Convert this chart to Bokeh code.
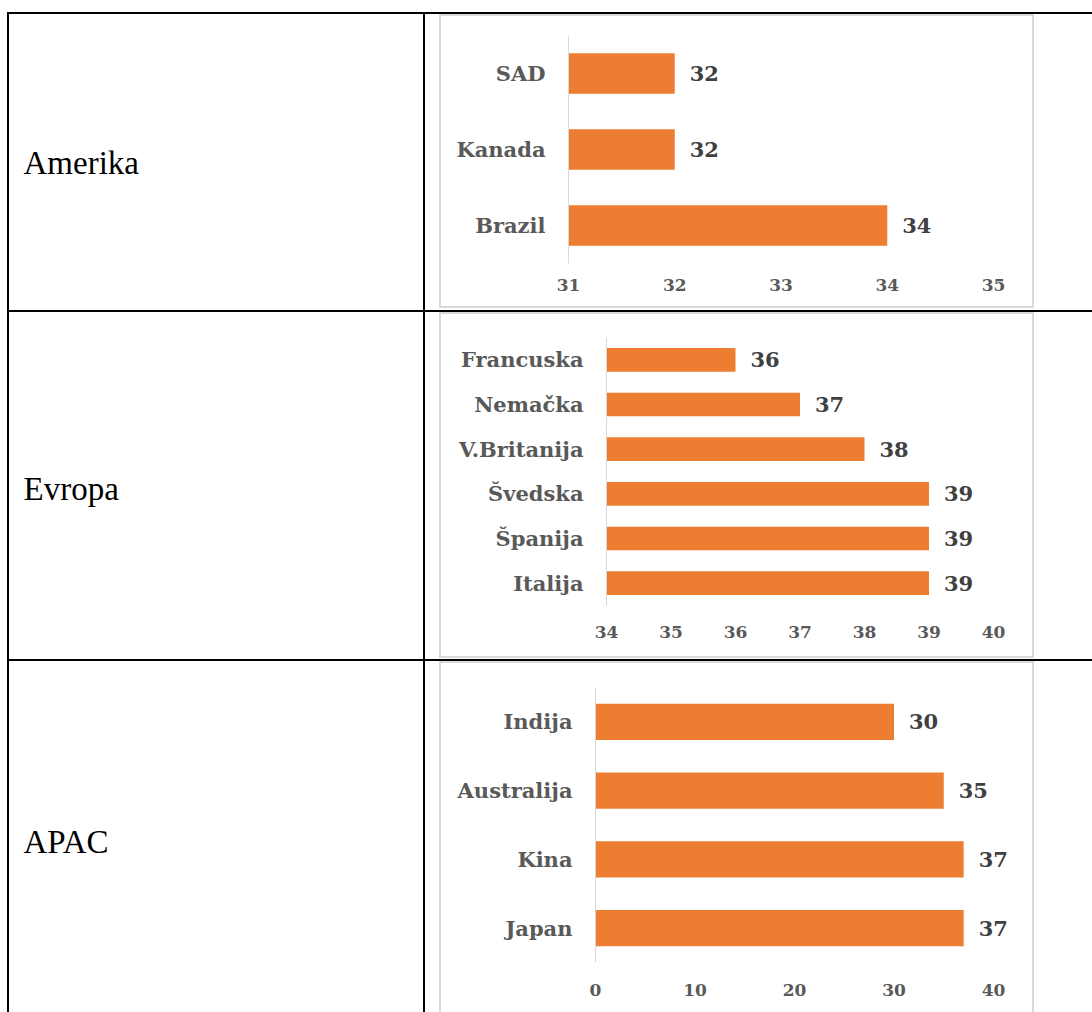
from bokeh.plotting import figure
from bokeh.models import (ColumnDataSource, Range1d, FactorRange, FixedTicker,
                          LabelSet, Label, Spacer)
from bokeh.layouts import row, column
from bokeh.core.properties import value
from bokeh.embed import file_html
from bokeh.resources import INLINE

# ---------------- data ----------------
regions = ["Amerika", "Evropa", "APAC"]

amerika_countries = ["SAD", "Kanada", "Brazil"]
amerika_values = [32, 32, 34]
amerika_ticks = [31, 32, 33, 34, 35]

evropa_countries = ["Francuska", "Nemačka", "V.Britanija", "Švedska", "Španija", "Italija"]
evropa_values = [36, 37, 38, 39, 39, 39]
evropa_ticks = [34, 35, 36, 37, 38, 39, 40]

apac_countries = ["Indija", "Australija", "Kina", "Japan"]
apac_values = [30, 35, 37, 37]
apac_ticks = [0, 10, 20, 30, 40]

# ---------------- styles ----------------
BAR = "#ED7D31"
GRID_GREY = "#d9d9d9"
LABEL_GREY = "#595959"
VALUE_GREY = "#404040"
SERIF_BOLD = "DejaVu Serif"
BLACK = "#000000"
FIG_W = 591
RIGHT_PAD = 39  # space right of the last tick inside the chart


def block(w, h, color):
    return Spacer(width=w, height=h, styles={"background-color": color})


def chart(countries, values, ticks, height, mb_left, mb_top, mb_bottom, x_standoff):
    factors = list(reversed(countries))
    src = ColumnDataSource(dict(cat=countries, val=values,
                                base=[ticks[0]] * len(values),
                                lab=[str(v) for v in values]))
    data_w = FIG_W - mb_left - RIGHT_PAD
    end = ticks[-1] + (ticks[-1] - ticks[0]) * RIGHT_PAD / data_w
    p = figure(width=FIG_W, height=height,
               x_range=Range1d(ticks[0], end),
               y_range=FactorRange(*factors),
               output_backend="svg", toolbar_location=None,
               min_border_left=mb_left, min_border_right=0,
               min_border_top=mb_top, min_border_bottom=mb_bottom,
               outline_line_color=None,
               background_fill_color="white", border_fill_color="white")
    p.hbar(y="cat", left="base", right="val", height=0.53, source=src,
           fill_color=BAR, line_color=None)
    p.grid.visible = False

    p.xaxis.ticker = FixedTicker(ticks=ticks)
    p.xaxis.axis_line_color = None
    p.xaxis.major_tick_line_color = None
    p.xaxis.minor_tick_line_color = None
    p.xaxis.major_label_standoff = x_standoff
    p.xaxis.major_label_text_font = SERIF_BOLD
    p.xaxis.major_label_text_font_style = "bold"
    p.xaxis.major_label_text_font_size = "17px"
    p.xaxis.major_label_text_color = LABEL_GREY

    p.yaxis.axis_line_color = GRID_GREY
    p.yaxis.axis_line_width = 1
    p.yaxis.major_tick_line_color = None
    p.yaxis.minor_tick_line_color = None
    p.yaxis.major_label_standoff = 17
    p.yaxis.major_label_text_font = SERIF_BOLD
    p.yaxis.major_label_text_font_style = "bold"
    p.yaxis.major_label_text_font_size = "21px"
    p.yaxis.major_label_text_color = LABEL_GREY

    labels = LabelSet(x="val", y="cat", text="lab", source=src,
                      x_offset=15, text_baseline="middle", text_align="left",
                      text_font=value(SERIF_BOLD), text_font_style="bold",
                      text_font_size="21px", text_color=VALUE_GREY)
    p.add_layout(labels)
    return p


def left_cell(name, height, ypos):
    p = figure(width=414, height=height, x_range=Range1d(0, 1), y_range=Range1d(0, 1),
               output_backend="svg", toolbar_location=None,
               x_axis_location=None, y_axis_location=None,
               min_border=0, outline_line_color=None)
    p.grid.visible = False
    p.add_layout(Label(x=14, x_units="screen", y=ypos, text=name,
                       text_baseline="middle", text_font="Liberation Serif",
                       text_font_size="33px", text_color=BLACK))
    return p


def right_cell(fig, fig_h, bottom_grey, bottom_white):
    parts = [block(595, 2, GRID_GREY),
             row(block(2, fig_h, GRID_GREY), fig, block(2, fig_h, GRID_GREY))]
    if bottom_grey:
        parts.append(block(595, bottom_grey, GRID_GREY))
    if bottom_white:
        parts.append(block(595, bottom_white, "white"))
    boxed = column(*parts)
    total_h = 2 + fig_h + bottom_grey + bottom_white
    return row(block(14, total_h, "white"), boxed, block(58, total_h, "white"))


# row 1
c1 = chart(amerika_countries, amerika_values, amerika_ticks, 290, 127, 19, 43, 9)
r1 = row(left_cell(regions[0], 296, 0.497), block(2, 296, BLACK), right_cell(c1, 290, 2, 2))
# row 2
c2 = chart(evropa_countries, evropa_values, evropa_ticks, 342, 165, 23, 51, 14)
r2 = row(left_cell(regions[1], 347, 0.49), block(2, 347, BLACK), right_cell(c2, 342, 2, 1))
# row 3
c3 = chart(apac_countries, apac_values, apac_ticks, 349, 154, 24, 50, 15)
r3 = row(left_cell(regions[2], 351, 0.487), block(2, 351, BLACK), right_cell(c3, 349, 0, 0))

table = column(r1, block(1083, 2, BLACK), r2, block(1083, 2, BLACK), r3)
layout = column(block(1092, 12, "white"),
                row(block(7, 2, "white"), block(1085, 2, BLACK)),
                row(block(7, 998, "white"), block(2, 998, BLACK), table))

open("out.html", "w").write(file_html(layout, INLINE, "chart"))
